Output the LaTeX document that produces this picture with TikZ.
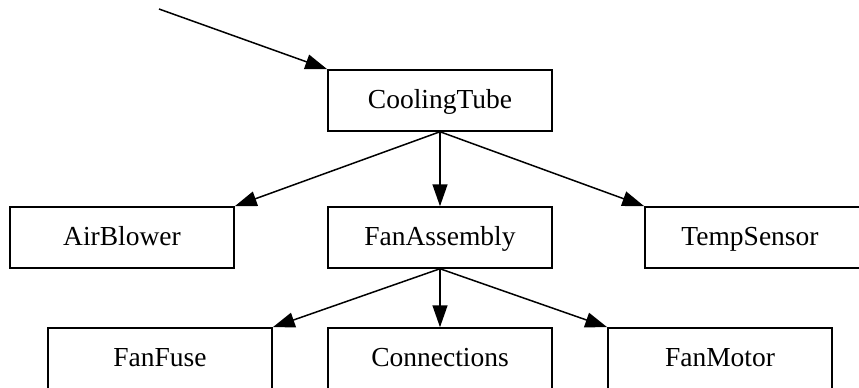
\documentclass[tikz,border=0pt]{standalone}
\usepackage{fontspec}
\setmainfont{Liberation Serif}
\usetikzlibrary{arrows.meta}
\begin{document}
\begin{tikzpicture}[x=1pt,y=-1pt,
  box/.style={draw, line width=1.5pt, rectangle, minimum width=224pt, minimum height=61pt, inner sep=0pt, text height=20pt, text depth=5pt, font=\fontsize{27.5}{31}\selectfont},
  arr/.style={line width=1.5pt, -{Triangle[length=22pt,width=15pt]}}]
\useasboundingbox (0,0) rectangle (859,388);
\node[box] (ct) at (440,100.5) {CoolingTube};
\node[box] (ab) at (122,237.5) {AirBlower};
\node[box] (fa) at (440,237.5) {FanAssembly};
\node[box] (ts) at (757,237.5) {TempSensor\hspace*{14pt}};
\node[box] (ff) at (160,358.5) {FanFuse};
\node[box] (cn) at (440,358.5) {Connections};
\node[box] (fm) at (720,358.5) {FanMotor};
\coordinate (start) at (159,9);
\draw[arr] (start) -- (ct.north west);
\draw[arr] (ct.south) -- (ab.north east);
\draw[arr] (ct.south) -- (fa.north);
\draw[arr] (ct.south) -- (ts.north west);
\draw[arr] (fa.south) -- (ff.north east);
\draw[arr] (fa.south) -- (cn.north);
\draw[arr] (fa.south) -- (fm.north west);
\end{tikzpicture}
\end{document}
